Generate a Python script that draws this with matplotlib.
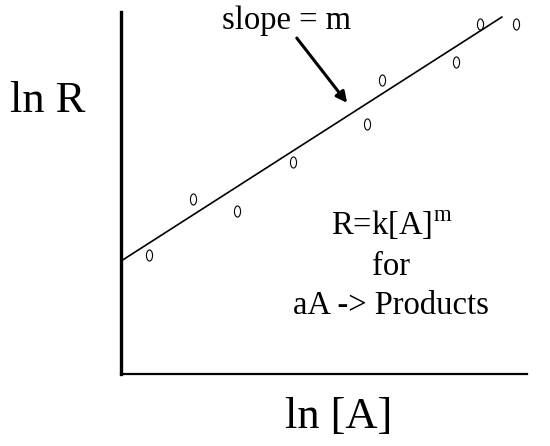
import matplotlib.pyplot as plt
import numpy as np
from matplotlib.path import Path
from matplotlib.transforms import Affine2D

plt.rcParams['font.family'] = ['Liberation Serif', 'DejaVu Serif']
plt.rcParams['mathtext.fontset'] = 'custom'
plt.rcParams['mathtext.rm'] = 'Liberation Serif'

# data points (ln [A], ln R), arbitrary units 0..10
ln_a = [0.69, 1.77, 2.86, 4.24, 6.06, 6.43, 8.25, 8.84, 9.73]
ln_r = [3.29, 4.83, 4.50, 5.86, 6.91, 8.12, 8.62, 9.67, 9.67]

# fitted line ends
fit_x = [0.0, 9.38]
fit_y = [3.12, 9.86]

W, H = 550, 446
fig = plt.figure(figsize=(W / 100, H / 100), dpi=100)
ax = fig.add_axes([121 / W, (H - 374) / H, 406 / W, 362 / H])
ax.set_xlim(0, 10)
ax.set_ylim(0, 10)

# oval "0" shaped marker
oval = Path.unit_circle().transformed(Affine2D().scale(0.55, 1.0))

ax.plot(fit_x, fit_y, color='black', lw=1.2)
ax.plot(ln_a, ln_r, linestyle='none', marker=oval, markersize=8,
        markerfacecolor='none', markeredgecolor='black', markeredgewidth=0.8,
        clip_on=False)

ax.annotate('', xy=(5.57, 7.49), xytext=(4.33, 9.28),
            arrowprops=dict(arrowstyle='-|>', lw=2.2, color='black',
                            mutation_scale=16, shrinkA=0, shrinkB=0))

ax.set_xticks([])
ax.set_yticks([])
for s in ['top', 'right']:
    ax.spines[s].set_visible(False)
ax.spines['left'].set_linewidth(2.4)
ax.spines['bottom'].set_linewidth(1.6)


def ftext(x, y, s, size):
    fig.text(x / W, 1 - y / H, s, fontsize=size, ha='center', va='baseline')


ftext(287, 29, 'slope = m', 23.5)
ftext(48, 112, 'ln R', 32)
ftext(339, 428, 'ln [A]', 32)
ftext(392, 235, r'R=k[A]$^{\mathrm{m}}$', 23.5)
ftext(391, 275, 'for', 23.5)
ftext(391, 314, 'aA -> Products', 23.5)

fig.savefig('out.png', dpi=100)
